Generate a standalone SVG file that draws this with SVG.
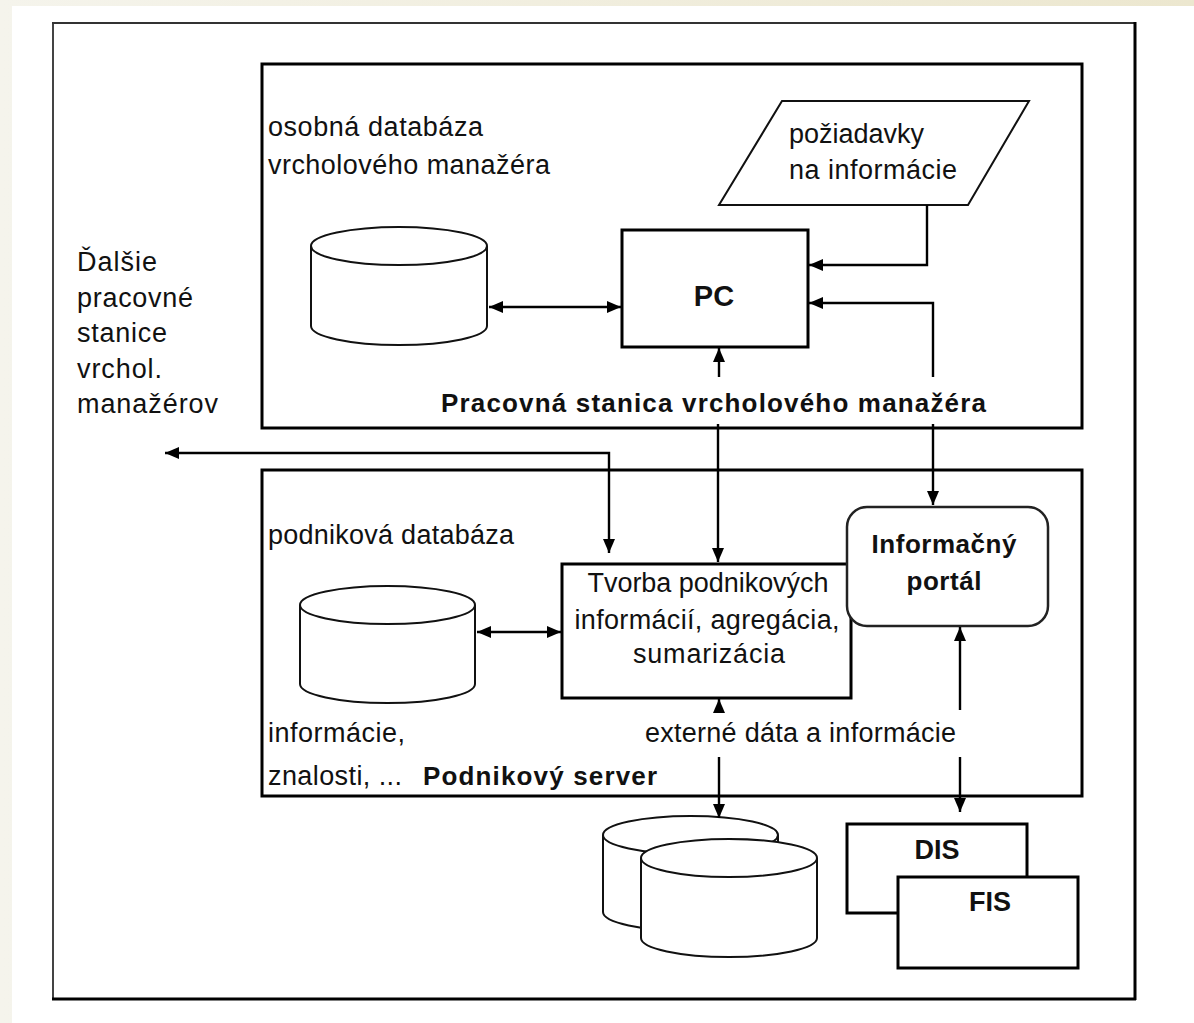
<svg xmlns="http://www.w3.org/2000/svg" width="1194" height="1023" viewBox="0 0 1194 1023">
<defs>
<linearGradient id="bg" x1="0" y1="0" x2="1" y2="0">
<stop offset="0" stop-color="#f5f4ec"/>
<stop offset="1" stop-color="#ece7cf"/>
</linearGradient>
<marker id="ah" viewBox="0 0 14 12" refX="14" refY="6" markerWidth="14" markerHeight="12" markerUnits="userSpaceOnUse" orient="auto-start-reverse">
<path d="M0,0 L14,6 L0,12 z" fill="#000"/>
</marker>
</defs>
<style>
text{font-family:"Liberation Sans",Arial,sans-serif;fill:#111;}
.r{font-size:27px;}
.b{font-size:26px;font-weight:bold;}
.box{fill:#fff;stroke:#000;stroke-width:3;}
.cyl{fill:#fff;stroke:#111;stroke-width:2;}
.con{fill:none;stroke:#000;stroke-width:2.4;}
</style>
<rect x="0" y="0" width="1194" height="1023" fill="url(#bg)"/>
<rect x="12" y="6" width="1182" height="1017" fill="#fff"/>
<g id="frame">
<line x1="53" y1="22" x2="53" y2="999" stroke="#444" stroke-width="2"/>
<line x1="52" y1="23" x2="1136" y2="23" stroke="#333" stroke-width="2"/>
<line x1="1135" y1="22" x2="1135" y2="1000" stroke="#000" stroke-width="3"/>
<line x1="52" y1="999" x2="1136" y2="999" stroke="#000" stroke-width="3"/>
</g>
<g id="workstation">
<rect class="box" x="262" y="64" width="820" height="364"/>
<text class="b" x="441" y="412" textLength="545" lengthAdjust="spacing">Pracovná stanica vrcholového manažéra</text>
</g>
<g id="server">
<rect class="box" x="262" y="470" width="820" height="326"/>
<text class="b" x="423" y="785" textLength="234" lengthAdjust="spacing">Podnikový server</text>
</g>
<g id="personal-db">
<text class="r" x="268" y="136" textLength="215" lengthAdjust="spacing">osobná databáza</text>
<text class="r" x="268" y="174" textLength="282" lengthAdjust="spacing">vrcholového manažéra</text>
<path class="cyl" d="M311,246 V326 A88,19 0 0 0 487,326 V246 A88,19 0 0 0 311,246 A88,19 0 0 0 487,246"/>
</g>
<g id="requests">
<polygon class="cyl" points="782,101 1029,101 968,205 719,205"/>
<text class="r" x="789" y="143" textLength="135" lengthAdjust="spacing">požiadavky</text>
<text class="r" x="789" y="179" textLength="168" lengthAdjust="spacing">na informácie</text>
</g>
<g id="pc">
<rect class="box" x="622" y="230" width="186" height="117"/>
<text x="714" y="306" text-anchor="middle" style="font-size:29px;font-weight:bold">PC</text>
</g>
<g id="other-stations">
<text class="r" x="77" y="271" textLength="80" lengthAdjust="spacing">Ďalšie</text>
<text class="r" x="77" y="307" textLength="116" lengthAdjust="spacing">pracovné</text>
<text class="r" x="77" y="342" textLength="90" lengthAdjust="spacing">stanice</text>
<text class="r" x="77" y="378" textLength="85" lengthAdjust="spacing">vrchol.</text>
<text class="r" x="77" y="413" textLength="141" lengthAdjust="spacing">manažérov</text>
</g>
<g id="company-db">
<text class="r" x="268" y="544" textLength="246" lengthAdjust="spacing">podniková databáza</text>
<path class="cyl" d="M300,605 V684 A87.5,19 0 0 0 475,684 V605 A87.5,19 0 0 0 300,605 A87.5,19 0 0 0 475,605"/>
<text class="r" x="268" y="742" textLength="137" lengthAdjust="spacing">informácie,</text>
<text class="r" x="268" y="785" textLength="134" lengthAdjust="spacing">znalosti, ...</text>
</g>
<g id="processing">
<rect class="box" x="562" y="564" width="289" height="134"/>
<text class="r" x="708" y="592" text-anchor="middle" textLength="241" lengthAdjust="spacing">Tvorba podnikových</text>
<text class="r" x="707" y="629" text-anchor="middle" textLength="265" lengthAdjust="spacing">informácií, agregácia,</text>
<text class="r" x="709" y="663" text-anchor="middle" textLength="152" lengthAdjust="spacing">sumarizácia</text>
</g>
<g id="portal">
<rect x="847" y="507" width="201" height="119" rx="20" ry="20" fill="#fff" stroke="#222" stroke-width="2.5"/>
<text class="b" x="944" y="553" text-anchor="middle" textLength="145" lengthAdjust="spacing">Informačný</text>
<text class="b" x="944" y="590" text-anchor="middle" textLength="75" lengthAdjust="spacing">portál</text>
</g>
<g id="external">
<text class="r" x="645" y="742" textLength="311" lengthAdjust="spacing">externé dáta a informácie</text>
<path class="cyl" d="M603,835 V912 A87.5,19 0 0 0 778,912 V835 A87.5,19 0 0 0 603,835 A87.5,19 0 0 0 778,835"/>
<path class="cyl" d="M641,858 V938 A88,19 0 0 0 817,938 V858 A88,19 0 0 0 641,858 A88,19 0 0 0 817,858"/>
</g>
<g id="dis">
<rect class="box" x="847" y="824" width="180" height="89"/>
<text x="937" y="859" text-anchor="middle" style="font-size:27px;font-weight:bold">DIS</text>
</g>
<g id="fis">
<rect class="box" x="898" y="877" width="180" height="91"/>
<text x="990" y="911" text-anchor="middle" style="font-size:27px;font-weight:bold">FIS</text>
</g>
<g id="connectors">
<path class="con" d="M489,307 H621" marker-start="url(#ah)" marker-end="url(#ah)"/>
<path class="con" d="M927,205 V265 H809" marker-end="url(#ah)"/>
<path class="con" d="M933,377 V303 H809" marker-end="url(#ah)"/>
<path class="con" d="M933,424 V505" marker-end="url(#ah)"/>
<path class="con" d="M719,377 V348" marker-end="url(#ah)"/>
<path class="con" d="M718,424 V562" marker-end="url(#ah)"/>
<path class="con" d="M165,453 H609 V553" marker-start="url(#ah)" marker-end="url(#ah)"/>
<path class="con" d="M477,632 H561" marker-start="url(#ah)" marker-end="url(#ah)"/>
<path class="con" d="M719,712 V699" marker-end="url(#ah)"/>
<path class="con" d="M719,757 V818" marker-end="url(#ah)"/>
<path class="con" d="M960,710 V627" marker-end="url(#ah)"/>
<path class="con" d="M960,757 V812" marker-end="url(#ah)"/>
</g>
</svg>
